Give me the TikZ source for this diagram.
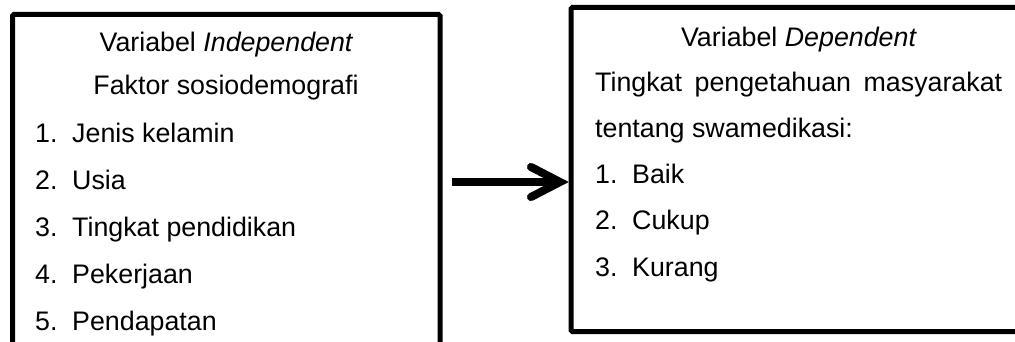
\documentclass[tikz,border=0pt]{standalone}
\usepackage{fontspec}
\setmainfont{Liberation Sans}
\usetikzlibrary{calc}
\begin{document}
\begin{tikzpicture}[x=1pt,y=-1pt,
  frame/.style={draw=black,line width=5pt,rounded corners=1.5pt},
  txt/.style={inner sep=0pt,font=\fontsize{26.8pt}{30pt}\selectfont},
  lbl/.style={txt,anchor=base west},
  ttl/.style={txt,anchor=base},
  shaft/.style={line width=7pt},
  head/.style={line width=8pt,line cap=round,line join=miter}]
\useasboundingbox (0,0) rectangle (1015,342);
\clip (0,0) rectangle (1015,342);

% left box: independent variables
\draw[frame] (12.5,14.5) rectangle (440,370);
\node[ttl] (indep) at (226.5,52) {Variabel \textit{Independent}};
\node[ttl] (faktor) at (226,95) {Faktor sosiodemografi};
\foreach \n/\t [count=\i from 0] in {1/Jenis kelamin,2/Usia,3/Tingkat pendidikan,4/Pekerjaan,5/Pendapatan}{
  \node[lbl] (ln\n) at (35,143+46.75*\i) {\n.};
  \node[lbl] (lt\n) at (72,143+46.75*\i) {\t};
}

% right box: dependent variable
\draw[frame] (571,7.5) rectangle (1030,331.5);
\node[ttl] (dep) at (799,47) {Variabel \textit{Dependent}};
\node[lbl] (ting) at (595,92) {\makebox[407pt][s]{Tingkat pengetahuan masyarakat}};
\node[lbl] (tent) at (595,138) {tentang swamedikasi:};
\foreach \n/\t [count=\i from 0] in {1/Baik,2/Cukup,3/Kurang}{
  \node[lbl] (rn\n) at (595,183+46.5*\i) {\n.};
  \node[lbl] (rt\n) at (632,183+46.5*\i) {\t};
}

% arrow between the boxes
\coordinate (atail) at (452,182);
\coordinate (atip) at (560,182);
\begin{scope}[black!25,opacity=0.6,shift={(2,4)}]
  \draw[shaft] (atail) -- ($(atip)+(-6,0)$);
  \draw[head] ($(atip)+(-29,-15)$) -- (atip) -- ($(atip)+(-29,15)$);
\end{scope}
\draw[shaft] (atail) -- ($(atip)+(-6,0)$);
\draw[head] ($(atip)+(-29,-15)$) -- (atip) -- ($(atip)+(-29,15)$);
\end{tikzpicture}
\end{document}
